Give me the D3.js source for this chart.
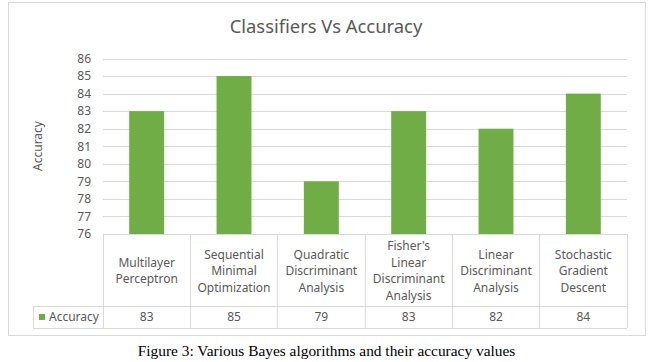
<!DOCTYPE html>
<html><head><meta charset="utf-8">
<script src="https://cdn.jsdelivr.net/npm/d3@7"></script>
<style>body{margin:0;background:#fff}</style>
</head><body>
<script>
const categories = [
  ["Multilayer","Perceptron"],
  ["Sequential","Minimal","Optimization"],
  ["Quadratic","Discriminant","Analysis"],
  ["Fisher's","Linear","Discriminant","Analysis"],
  ["Linear","Discriminant","Analysis"],
  ["Stochastic","Gradient","Descent"]
];
const values = [83, 85, 79, 83, 82, 84];
const yTicks = [76,77,78,79,80,81,82,83,84,85,86];
const seriesName = "Accuracy";
const title = "Classifiers Vs Accuracy";
const caption = "Figure 3: Various Bayes algorithms and their accuracy values";

const W = 663, H = 362;
const svg = d3.select("body").append("svg").attr("width", W).attr("height", H);
const font = "'Noto Sans', 'Open Sans', sans-serif";
const grey = "#595959", line = "#d9d9d9", green = "#70ad47";

svg.append("rect").attr("x", 8.5).attr("y", 2.5).attr("width", 637).attr("height", 333)
  .attr("fill", "#fff").attr("stroke", line);

const x = d3.scaleBand().domain(d3.range(categories.length)).range([103, 627]).paddingInner(0).paddingOuter(0);
const y = d3.scaleLinear().domain([76, 86]).range([234, 58.5]);

svg.append("text").attr("x", 326).attr("y", 33).attr("text-anchor", "middle")
  .attr("font-family", font).attr("font-size", 18.4).attr("fill", grey).text(title);

// gridlines
svg.append("g").selectAll("line").data(yTicks).join("line")
  .attr("x1", 103).attr("x2", 627)
  .attr("y1", d => Math.round(y(d)) + 0.5).attr("y2", d => Math.round(y(d)) + 0.5)
  .attr("stroke", line);

// y axis labels
const yAxis = d3.axisLeft(y).tickValues(yTicks).tickSize(0).tickPadding(0);
const ga = svg.append("g").attr("transform", "translate(91,0)").call(yAxis);
ga.select(".domain").remove();
ga.selectAll("text").attr("font-family", font).attr("font-size", 12).attr("fill", grey);

svg.append("text").attr("transform", `translate(42,146) rotate(-90)`).attr("text-anchor", "middle")
  .attr("font-family", font).attr("font-size", 12).attr("fill", grey).text(seriesName);

// bars
const bw = x.bandwidth() * 0.4;
svg.append("g").selectAll("rect").data(values).join("rect")
  .attr("x", (d, i) => x(i) + (x.bandwidth() - bw) / 2)
  .attr("y", d => y(d)).attr("width", bw).attr("height", d => y(76) - y(d))
  .attr("fill", green);

// table
const tTop = 234, tMid = 306, tBot = 328, tLeft = 33;
const tg = svg.append("g").attr("stroke", line).attr("shape-rendering", "crispEdges");
tg.append("line").attr("x1", 103).attr("x2", 627).attr("y1", tTop).attr("y2", tTop);
tg.append("line").attr("x1", tLeft).attr("x2", 627).attr("y1", tMid).attr("y2", tMid);
tg.append("line").attr("x1", tLeft).attr("x2", 627).attr("y1", tBot).attr("y2", tBot);
tg.append("line").attr("x1", tLeft).attr("x2", tLeft).attr("y1", tMid).attr("y2", tBot);
tg.selectAll(".v").data(d3.range(categories.length + 1)).join("line")
  .attr("x1", i => i < categories.length ? x(i) : x.range()[1])
  .attr("x2", i => i < categories.length ? x(i) : x.range()[1])
  .attr("y1", tTop).attr("y2", tBot);

// category labels
const lh = 16.5;
categories.forEach((lines, i) => {
  const cx = x(i) + x.bandwidth() / 2;
  const cy = (tTop + tMid) / 2 + 1;
  const t = svg.append("text").attr("text-anchor", "middle").attr("font-family", font)
    .attr("font-size", 12).attr("fill", grey);
  lines.forEach((s, k) => {
    t.append("tspan").attr("x", cx)
      .attr("y", cy + (k - (lines.length - 1) / 2) * lh).attr("dy", "0.35em").text(s);
  });
});

// value row
svg.append("g").selectAll("text").data(values).join("text")
  .attr("x", (d, i) => x(i) + x.bandwidth() / 2).attr("y", (tMid + tBot) / 2).attr("dy", "0.35em")
  .attr("text-anchor", "middle").attr("font-family", font).attr("font-size", 12).attr("fill", grey)
  .text(d => d);

svg.append("rect").attr("x", 39).attr("y", 314).attr("width", 6).attr("height", 6).attr("fill", green);
svg.append("text").attr("x", 49).attr("y", (tMid + tBot) / 2).attr("dy", "0.35em")
  .attr("font-family", font).attr("font-size", 12).attr("fill", grey).text(seriesName);

svg.append("text").attr("x", 326.5).attr("y", 356).attr("text-anchor", "middle")
  .attr("font-family", "'Liberation Serif', 'Times New Roman', serif").attr("font-size", 15.4)
  .attr("fill", "#000").text(caption);
</script>
</body></html>
